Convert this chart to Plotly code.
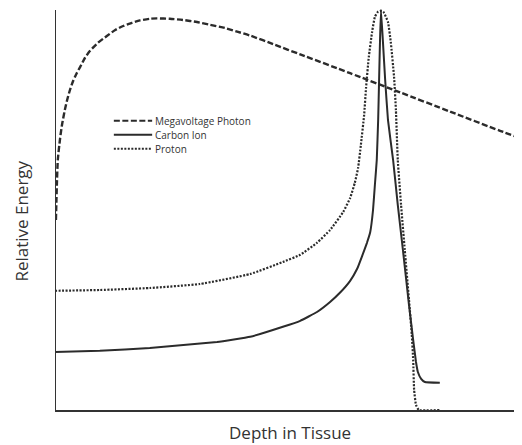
import plotly.graph_objects as go

# Depth (0-100, arbitrary units) and relative energy (0-100)
photon_depth = [0.2, 0.4, 0.6, 1.1, 1.5, 2.1, 2.6, 3.2, 3.9, 4.7, 5.4, 6.4, 7.5, 9.2, 11.1,
                12.9, 14.6, 16.5, 18.2, 20.3, 21.8, 24.6, 27.4, 30.4, 33.2, 36.4, 39.0, 41.8,
                47.1, 52.5, 63.2, 73.9, 84.6, 95.3, 100.0]
photon_energy = [47.5, 56.3, 62.5, 68.0, 71.3, 75.0, 77.5, 80.0, 82.3, 84.3, 85.8, 88.0, 89.8,
                 91.8, 93.5, 95.0, 96.0, 96.8, 97.4, 97.8, 97.9, 97.8, 97.5, 97.0, 96.3, 95.5,
                 94.6, 93.6, 91.3, 88.9, 84.2, 79.4, 74.6, 69.8, 67.8]

carbon_depth = [0.0, 9.6, 20.3, 34.7, 41.8, 48.8, 52.5, 56.1, 58.9, 61.0, 63.2, 64.7, 65.7,
                66.8, 67.5, 68.1, 68.5, 68.9, 69.2, 69.4, 69.6, 69.8, 70.2, 70.7, 71.3, 72.4,
                73.4, 74.5, 75.8, 76.7, 77.3, 77.7, 78.4, 79.2, 82.4]
carbon_energy = [14.5, 14.8, 15.5, 17.0, 18.3, 20.8, 22.3, 24.5, 27.0, 29.3, 32.3, 35.3, 38.3,
                 41.8, 44.5, 50.0, 56.3, 62.5, 72.5, 82.5, 92.5, 100.0, 92.5, 82.5, 72.5, 62.5,
                 51.3, 40.0, 26.3, 17.5, 12.0, 9.5, 7.8, 7.0, 6.8]

proton_depth = [0.0, 9.6, 20.3, 31.0, 41.8, 48.8, 52.5, 56.1, 58.9, 61.7, 63.2, 64.2, 64.9,
                65.5, 66.2, 66.6, 67.2, 67.9, 68.5, 69.2, 69.8, 70.4, 71.3, 71.9, 72.6, 73.0,
                73.4, 74.1, 74.9, 75.8, 76.4, 76.7, 76.9, 77.3, 77.9, 82.4]
proton_energy = [29.8, 30.0, 30.5, 31.5, 34.0, 37.0, 38.8, 41.8, 45.0, 49.5, 53.0, 56.8, 60.5,
                 66.3, 73.8, 80.5, 88.3, 94.5, 98.3, 99.6, 99.8, 99.4, 97.0, 92.0, 83.3, 75.0,
                 62.5, 51.3, 40.0, 27.5, 18.8, 12.5, 5.0, 1.3, 0.0, 0.0]

series_names = ["Megavoltage Photon", "Carbon Ion", "Proton"]
series_dash = ["6px,2.5px", "solid", "2px,1.5px"]
legend_y = [72.3, 68.8, 65.3]

INK = "#2b2b2b"

fig = go.Figure()
fig.add_trace(go.Scatter(x=photon_depth, y=photon_energy, mode="lines",
                         line=dict(color=INK, width=2.4, dash=series_dash[0], shape="spline", smoothing=0.6),
                         name=series_names[0], showlegend=False))
fig.add_trace(go.Scatter(x=proton_depth, y=proton_energy, mode="lines",
                         line=dict(color=INK, width=2.2, dash=series_dash[2], shape="spline", smoothing=0.4),
                         name=series_names[2], showlegend=False))
fig.add_trace(go.Scatter(x=carbon_depth, y=carbon_energy, mode="lines",
                         line=dict(color=INK, width=2, dash=series_dash[1], shape="spline", smoothing=0.3),
                         name=series_names[1], showlegend=False))

# y axis line
fig.add_shape(type="line", xref="x", yref="y", x0=0, x1=0, y0=0, y1=100,
              line=dict(color="#333333", width=2))

# manual legend
for name, dash, ly in zip(series_names, series_dash, legend_y):
    fig.add_shape(type="line", xref="x", yref="y", x0=12.6, x1=20.8, y0=ly, y1=ly,
                  line=dict(color=INK, width=2, dash=dash))
    fig.add_annotation(x=21.0, y=ly, xref="x", yref="y", text=name, showarrow=False,
                       xanchor="left", yanchor="middle",
                       font=dict(family="Open Sans", size=10, color="#333333"))

fig.add_annotation(x=-0.1006, y=0.47, xref="paper", yref="paper", text="Relative Energy",
                   showarrow=False, textangle=-90, xanchor="left", yanchor="middle",
                   font=dict(family="Open Sans", size=17, color="#333333"))
fig.add_annotation(x=0.503, y=-0.055, xref="paper", yref="paper", text="Depth in Tissue",
                   showarrow=False, xanchor="center", yanchor="middle",
                   font=dict(family="Open Sans", size=17, color="#333333"))

fig.update_layout(
    width=514, height=437,
    margin=dict(l=47, r=0, t=0, b=35),
    paper_bgcolor="white", plot_bgcolor="white",
    xaxis=dict(range=[0, 100], showgrid=False, zeroline=False, showticklabels=False,
               ticks="", showline=True, linecolor="#333333", linewidth=2),
    yaxis=dict(range=[0, 100.5], showgrid=False, zeroline=False, showticklabels=False,
               ticks="", showline=False),
    showlegend=False,
)

fig.write_html("out.html")
